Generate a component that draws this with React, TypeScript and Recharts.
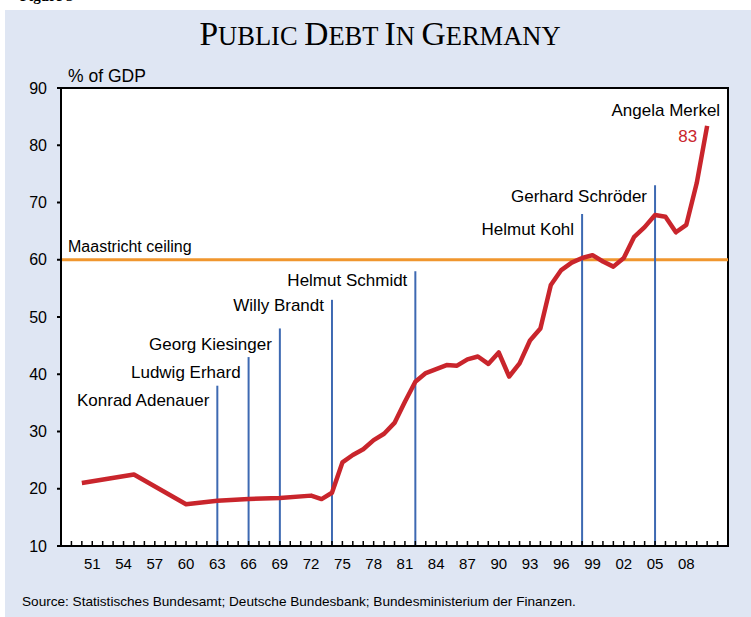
import React from "react"
import { LineChart, Line, XAxis, YAxis, CartesianGrid, ReferenceLine, ReferenceArea, ReferenceDot } from "recharts"

// general government debt, % of GDP
const years = [
  1950, 1955, 1960, 1963, 1966, 1969, 1972, 1973, 1974, 1975, 1976, 1977, 1978, 1979, 1980,
  1981, 1982, 1983, 1984, 1985, 1986, 1987, 1988, 1989, 1990, 1991, 1992, 1993, 1994, 1995,
  1996, 1997, 1998, 1999, 2000, 2001, 2002, 2003, 2004, 2005, 2006, 2007, 2008, 2009, 2010,
]
const debt = [
  21.0, 22.5, 17.3, 17.9, 18.2, 18.4, 18.8, 18.2, 19.3, 24.6, 25.9, 26.9, 28.5, 29.6, 31.5,
  35.2, 38.7, 40.2, 40.9, 41.6, 41.5, 42.6, 43.1, 41.8, 43.8, 39.6, 41.9, 45.9, 48.0, 55.6,
  58.2, 59.5, 60.3, 60.8, 59.7, 58.8, 60.3, 64.0, 65.7, 67.8, 67.5, 64.8, 66.1, 73.4, 83.4,
]

const chancellors = [
  "Konrad Adenauer", "Ludwig Erhard", "Georg Kiesinger", "Willy Brandt",
  "Helmut Schmidt", "Helmut Kohl", "Gerhard Schröder",
]
const chancellorYears = [1963, 1966, 1969, 1974, 1982, 1998, 2005]
const chancellorMarks = [38, 43, 48, 53, 58, 68, 73]
const latestChancellor = "Angela Merkel"

const maastricht = 60
const yTicks = [10, 20, 30, 40, 50, 60, 70, 80, 90]
const yearTicks = Array.from({ length: 63 }, (_, i) => 1949 + i)
const firstLabel = 1951
const lastLabel = 2008

const data = years.map((year, i) => ({ year, debt: debt[i] }))

const RED = "#C9252C"
const BLUE = "#3D69B2"
const ORANGE = "#F0962E"
const PANEL = "#DFE6F3"

// baseline offset of each name below the top of its line
const nameDy = [20, 20.5, 22, 11.5, 15, 20.7, 16.3]

function YearTick(props: any) {
  const { x, y, payload } = props
  const yr = payload.value as number
  const showLabel = yr >= firstLabel && yr <= lastLabel && (yr - firstLabel) % 3 === 0
  return (
    <g>
      <line x1={x} x2={x} y1={y - 5} y2={y} stroke="#000" strokeWidth={1.5} />
      {showLabel && (
        <text x={x} y={y + 23} textAnchor="middle" fontSize={15} fill="#000">
          {String(yr % 100).padStart(2, "0")}
        </text>
      )}
    </g>
  )
}

function nameLabel(name: string, dy: number) {
  return (p: any) => {
    const vb = p.viewBox
    return (
      <text x={vb.x - 8} y={vb.y + dy} textAnchor="end" fontSize={17} fill="#000">
        {name}
      </text>
    )
  }
}

export default function App() {
  return (
    <div
      style={{
        position: "absolute",
        left: 0,
        top: 0,
        width: 751,
        height: 617,
        overflow: "hidden",
        background: "#fff",
        fontFamily: "'Liberation Sans', Arial, sans-serif",
      }}
    >
      <div style={{ position: "absolute", left: 5, top: 10, right: 0, bottom: 0, background: PANEL }} />
      <LineChart
        width={751}
        height={617}
        data={data}
        margin={{ top: 88, right: 23, bottom: 41, left: 21 }}
        style={{ position: "absolute", left: 0, top: 0 }}
      >
        <ReferenceArea x1={1948} x2={2012} y1={10} y2={90} fill="#fff" fillOpacity={1} stroke="none" />
        <CartesianGrid vertical={false} stroke="#7a7a7a" strokeWidth={2} fill="none" />
        <XAxis
          dataKey="year"
          type="number"
          domain={[1948, 2012]}
          allowDataOverflow
          ticks={yearTicks}
          interval={0}
          tickLine={false}
          tickSize={0}
          tickMargin={0}
          height={30}
          axisLine={{ stroke: "#000", strokeWidth: 2 }}
          tick={(p: any) => <YearTick {...p} />}
        />
        <YAxis
          type="number"
          domain={[10, 90]}
          allowDataOverflow
          ticks={yTicks}
          interval={0}
          width={40}
          tickSize={4}
          tickMargin={10}
          tick={{ fill: "#000", fontSize: 16 }}
          tickLine={{ stroke: "#000", strokeWidth: 2 }}
          axisLine={{ stroke: "#000", strokeWidth: 2 }}
        />
        <ReferenceLine
          y={maastricht}
          stroke={ORANGE}
          strokeWidth={3}
          label={(p: any) => (
            <text x={p.viewBox.x + 7} y={p.viewBox.y - 8} fontSize={16} fill="#000">
              Maastricht ceiling
            </text>
          )}
        />
        {chancellors.map((name, i) => (
          <ReferenceLine
            key={name}
            segment={[
              { x: chancellorYears[i], y: 10 },
              { x: chancellorYears[i], y: chancellorMarks[i] },
            ]}
            stroke={BLUE}
            strokeWidth={2}
            label={nameLabel(name, nameDy[i])}
          />
        ))}
        <Line
          type="linear"
          dataKey="debt"
          stroke={RED}
          strokeWidth={4.5}
          strokeLinejoin="round"
          dot={false}
          isAnimationActive={false}
        />
        <ReferenceDot
          x={years[years.length - 1]}
          y={Math.round(debt[debt.length - 1])}
          r={0}
          shape={(p: any) => (
            <g>
              <text x={p.cx + 13} y={p.cy - 12} textAnchor="end" fontSize={17} fill="#000">
                {latestChancellor}
              </text>
              <text x={p.cx - 10} y={p.cy + 14} textAnchor="end" fontSize={17} fill={RED}>
                {Math.round(debt[debt.length - 1])}
              </text>
            </g>
          )}
        />
        <ReferenceArea x1={1948} x2={2012} y1={10} y2={90} fill="none" stroke="#000" strokeWidth={2} />
      </LineChart>
      <svg width={751} height={617} style={{ position: "absolute", left: 0, top: 0, pointerEvents: "none" }}>
        <text x={20} y={1} fontSize={15} fontWeight="bold" fontFamily="'Liberation Serif', serif" fill="#000">
          Figure 3
        </text>
        <text x={380} y={45} textAnchor="middle" fontFamily="'Liberation Serif', 'Times New Roman', serif" fill="#000">
          <tspan fontSize={33.5}>P</tspan>
          <tspan fontSize={26.5}>UBLIC </tspan>
          <tspan fontSize={33.5}>D</tspan>
          <tspan fontSize={26.5}>EBT </tspan>
          <tspan fontSize={33.5}>I</tspan>
          <tspan fontSize={26.5}>N </tspan>
          <tspan fontSize={33.5}>G</tspan>
          <tspan fontSize={26.5}>ERMANY</tspan>
        </text>
        <text x={68} y={82} fontSize={17.5} fill="#000">% of GDP</text>
        <text x={22} y={606} fontSize={13.6} fill="#000">
          Source: Statistisches Bundesamt; Deutsche Bundesbank; Bundesministerium der Finanzen.
        </text>
      </svg>
    </div>
  )
}
